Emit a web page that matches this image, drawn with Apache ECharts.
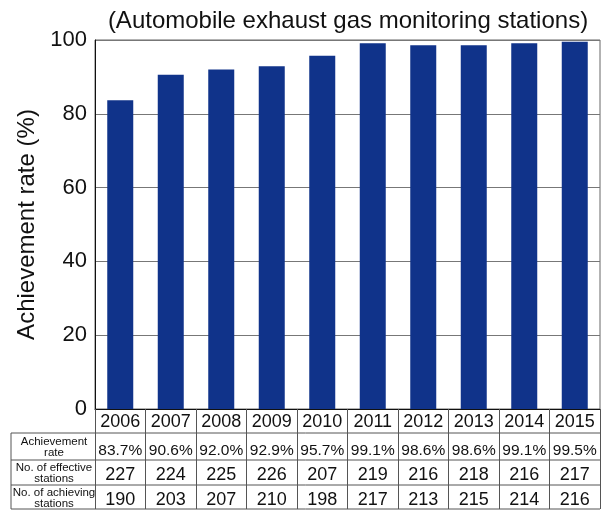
<!DOCTYPE html>
<html>
<head>
<meta charset="utf-8">
<script src="https://cdn.jsdelivr.net/npm/echarts@6/dist/echarts.min.js"></script>
<style>
  html, body { margin: 0; padding: 0; background: #fff; }
  #chart { width: 604px; height: 510px; }
</style>
</head>
<body>
<div id="chart"></div>
<script>
// data
var years = ['2006', '2007', '2008', '2009', '2010', '2011', '2012', '2013', '2014', '2015']
var rates = [83.7, 90.6, 92.0, 92.9, 95.7, 99.1, 98.6, 98.6, 99.1, 99.5]
var effective = [227, 224, 225, 226, 207, 219, 216, 218, 216, 217]
var achieving = [190, 203, 207, 210, 198, 217, 213, 215, 214, 216]
var rowLabels = ['Achievement\nrate', 'No. of effective\nstations', 'No. of achieving\nstations']
var yTicks = [0, 20, 40, 60, 80, 100]

var font = 'Arial, "Liberation Sans", sans-serif'
var gridLeft = 95, gridRight = 4, gridTop = 40, gridBottom = 101
var tableLeft = 11
// row boundaries of the table under the plot
var rowEdges = [409, 433, 460, 485, 509]

var myChart = echarts.init(document.getElementById('chart'))

function tableAxis(data, offset, size) {
  return {
    type: 'category',
    data: data,
    position: 'bottom',
    offset: offset,
    axisLine: { show: false },
    axisTick: { show: false },
    axisLabel: { interval: 0, hideOverlap: false, fontSize: size, color: '#111', fontFamily: font, margin: 5 }
  }
}

var graphics = []
// horizontal table lines
for (var i = 1; i < rowEdges.length; i++) {
  graphics.push({
    type: 'line',
    shape: { x1: tableLeft, y1: rowEdges[i], x2: 604 - gridRight, y2: rowEdges[i] },
    style: { stroke: '#555', lineWidth: 1 }
  })
}
graphics.push({
  type: 'line',
  shape: { x1: tableLeft, y1: rowEdges[1], x2: tableLeft, y2: rowEdges[4] },
  style: { stroke: '#555', lineWidth: 1 }
})
for (var r = 0; r < rowLabels.length; r++) {
  graphics.push({
    type: 'text',
    x: (tableLeft + gridLeft) / 2 + 1,
    y: (rowEdges[r + 1] + rowEdges[r + 2]) / 2 + 1,
    style: {
      text: rowLabels[r],
      fontSize: 11.5,
      lineHeight: 11,
      fontFamily: font,
      fill: '#111',
      align: 'center',
      verticalAlign: 'middle'
    }
  })
}

var option = {
  animation: false,
  backgroundColor: '#fff',
  title: {
    text: '(Automobile exhaust gas monitoring stations)',
    left: 343,
    textAlign: 'center',
    top: 4,
    textStyle: { fontSize: 24, fontWeight: 'normal', color: '#111', fontFamily: font }
  },
  grid: {
    left: gridLeft, right: gridRight, top: gridTop, bottom: gridBottom,
    show: true, borderColor: '#666', borderWidth: 1
  },
  xAxis: [
    {
      type: 'category',
      data: years,
      position: 'bottom',
      axisLine: { lineStyle: { color: '#111', width: 1 } },
      axisTick: { show: true, inside: false, length: rowEdges[4] - rowEdges[0], lineStyle: { color: '#555' } },
      axisLabel: { interval: 0, fontSize: 18, color: '#111', fontFamily: font, margin: 4 }
    },
    tableAxis(rates.map(function (v) { return v.toFixed(1) + '%' }), 29, 15.5),
    tableAxis(effective, 52, 18),
    tableAxis(achieving, 77, 18)
  ],
  yAxis: {
    type: 'value',
    min: yTicks[0],
    max: yTicks[yTicks.length - 1],
    interval: 20,
    name: 'Achievement rate (%)',
    nameLocation: 'middle',
    nameGap: 54,
    nameTextStyle: { fontSize: 24, color: '#111', fontFamily: font },
    axisLine: { show: true, lineStyle: { color: '#111' } },
    axisTick: { show: false },
    axisLabel: { fontSize: 22, color: '#111', fontFamily: font, margin: 8 },
    splitLine: { lineStyle: { color: '#777', width: 1 } }
  },
  series: [{
    type: 'bar',
    data: rates,
    xAxisIndex: 0,
    barWidth: 26,
    itemStyle: { color: '#10338a' }
  }],
  graphic: graphics
}
myChart.setOption(option)
</script>
</body>
</html>
